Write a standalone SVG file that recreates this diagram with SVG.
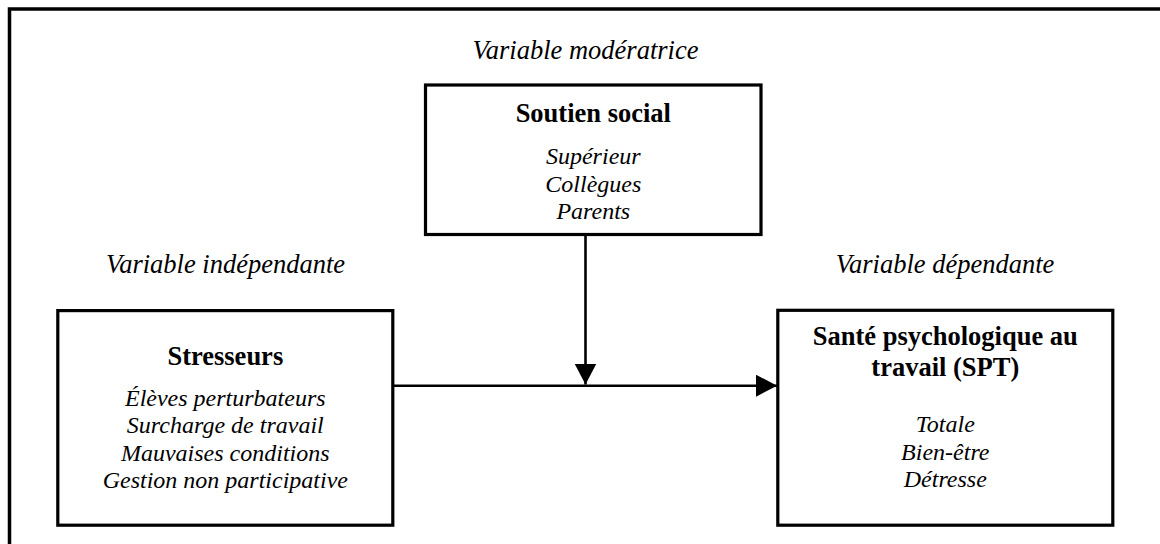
<svg xmlns="http://www.w3.org/2000/svg" width="1160" height="544" viewBox="0 0 1160 544">
  <style>
    .frame { fill: none; stroke: #000; stroke-width: 3.5; }
    .box { fill: #fff; stroke: #000; stroke-width: 3.2; }
    .link { fill: none; stroke: #000; stroke-width: 2.6; }
    text { font-family: "Liberation Serif", "Times New Roman", serif; fill: #000; text-anchor: middle; }
    .label { font-size: 26.5px; font-style: italic; }
    .title { font-size: 26.5px; font-weight: bold; }
    .item { font-size: 24px; font-style: italic; }
  </style>
  <defs>
    <marker id="arrow" markerUnits="userSpaceOnUse" markerWidth="22" markerHeight="24" refX="21" refY="11" orient="auto">
      <path d="M0,0 L21,11 L0,22 Z" fill="#000"/>
    </marker>
  </defs>

  <rect width="1160" height="544" fill="#fff"/>

  <!-- outer frame (open at right and bottom) -->
  <path class="frame" d="M9.5,544 V9 H1160"/>

  <!-- variable labels -->
  <text class="label" x="585.5" y="59">Variable modératrice</text>
  <text class="label" x="225.5" y="273">Variable indépendante</text>
  <text class="label" x="945" y="273">Variable dépendante</text>

  <g id="connectors">
    <line class="link" x1="393" y1="385.7" x2="777" y2="385.7" marker-end="url(#arrow)"/>
    <line class="link" x1="585.5" y1="235" x2="585.5" y2="384.5" marker-end="url(#arrow)"/>
  </g>

  <g id="soutien-social">
    <rect class="box" x="425.5" y="85" width="335.5" height="149.5"/>
    <text class="title" x="593.3" y="121.5">Soutien social</text>
    <text class="item" x="593.3" y="164">Supérieur</text>
    <text class="item" x="593.3" y="191.5">Collègues</text>
    <text class="item" x="593.3" y="219">Parents</text>
  </g>

  <g id="stresseurs">
    <rect class="box" x="57.8" y="310.6" width="335" height="214.6"/>
    <text class="title" x="225.3" y="365">Stresseurs</text>
    <text class="item" x="225.3" y="405.5">Élèves perturbateurs</text>
    <text class="item" x="225.3" y="433">Surcharge de travail</text>
    <text class="item" x="225.3" y="460.5">Mauvaises conditions</text>
    <text class="item" x="225.3" y="488">Gestion non participative</text>
  </g>

  <g id="sante-psychologique">
    <rect class="box" x="777.8" y="310.3" width="335" height="214.9"/>
    <text class="title" x="945.3" y="345">Santé psychologique au</text>
    <text class="title" x="945.3" y="376">travail (SPT)</text>
    <text class="item" x="945.3" y="431.5">Totale</text>
    <text class="item" x="945.3" y="459.5">Bien-être</text>
    <text class="item" x="945.3" y="487">Détresse</text>
  </g>
</svg>
